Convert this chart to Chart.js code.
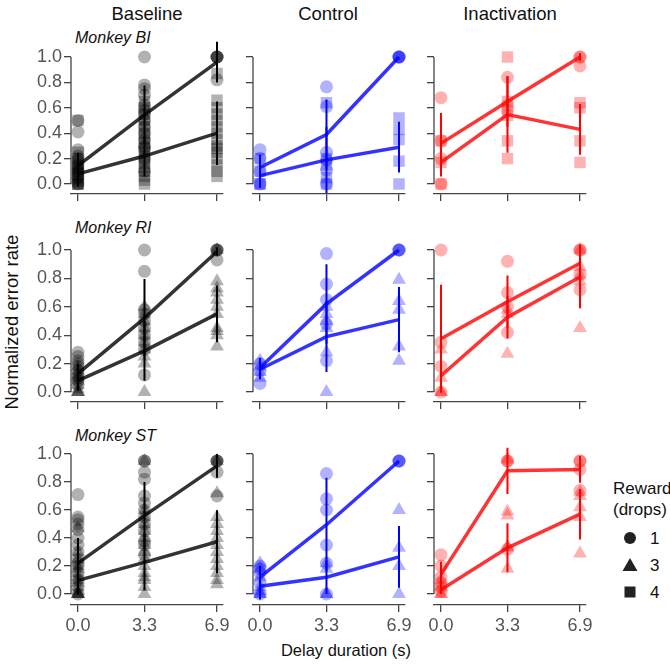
<!DOCTYPE html>
<html>
<head>
<meta charset="utf-8">
<script src="https://cdn.jsdelivr.net/npm/chart.js@4.4.0/dist/chart.umd.min.js"></script>
<style>
  body { margin: 0; background: #fff; }
  #fig { position: relative; width: 670px; height: 664px; font-family: 'Liberation Sans', Arial, sans-serif; color: #111; overflow: hidden; }
  #fig canvas { position: absolute; }
  .t { position: absolute; white-space: nowrap; line-height: 1; transform: translate(-50%, -50%); }
  .col { font-size: 18.5px; }
  .mk { font-size: 16px; font-style: italic; transform: translate(0, -50%); }
  .lg { font-size: 17px; transform: translate(0, -50%); }
</style>
</head>
<body>
<div id="fig">
  <div class="t col" style="left:147px;top:14px">Baseline</div>
  <div class="t col" style="left:328px;top:14px">Control</div>
  <div class="t col" style="left:510px;top:14px">Inactivation</div>
  <div class="t mk" style="left:75px;top:38px">Monkey BI</div>
  <div class="t mk" style="left:75px;top:228px">Monkey RI</div>
  <div class="t mk" style="left:75px;top:436px">Monkey ST</div>
  <div class="t" style="left:12px;top:322px;font-size:18.5px;transform:translate(-50%,-50%) rotate(-90deg)">Normalized error rate</div>
  <div class="t" style="left:346px;top:650px;font-size:16.5px">Delay duration (s)</div>
  <div class="t lg" style="left:613px;top:488px">Reward</div>
  <div class="t lg" style="left:613px;top:509px">(drops)</div>
  <div class="t lg" style="left:650px;top:538px">1</div>
  <div class="t lg" style="left:650px;top:565px">3</div>
  <div class="t lg" style="left:650px;top:592px">4</div>
  <svg style="position:absolute;left:0;top:0" width="670" height="664">
    <circle cx="630" cy="538" r="6" fill="#222"/>
    <polygon points="630,558 637.5,571 622.5,571" fill="#222"/>
    <rect x="624.5" y="586.5" width="11" height="11" fill="#222"/>
  </svg>
</div>
<script>
const DELAYS = [0, 3.3, 6.9];
const Y_TICKS = [0, 0.2, 0.4, 0.6, 0.8, 1.0];

// Monkey BI: reward 1 (circles), reward 4 (squares)
const BI_BASE_M1 = [0.145, 0.545, 0.96];
const BI_BASE_E1 = [0.1, 0.23, 0.16];
const BI_BASE_M2 = [0.08, 0.22, 0.40];
const BI_BASE_E2 = [0.1, 0.16, 0.25];
const BI_BASE_P1 = [[0.0, 0.05, 0.08, 0.1, 0.12, 0.15, 0.18, 0.2, 0.22, 0.27, 0.41, 0.5],
                    [1.0, 0.78, 0.75, 0.7, 0.62, 0.58, 0.55, 0.5, 0.45, 0.4, 0.35, 0.3, 0.28, 0.2, 0.1],
                    [1.0, 1.0, 1.0, 1.0, 0.82]];
const BI_BASE_P2 = [[0, 0, 0, 0.02, 0.04, 0.06, 0.08, 0.1, 0.12, 0.14, 0.16, 0.2, 0.25, 0.5],
                    [0, 0.03, 0.06, 0.1, 0.13, 0.16, 0.19, 0.22, 0.25, 0.28, 0.32, 0.36, 0.4, 0.45, 0.5, 0.55, 0.6, 0.65],
                    [0.06, 0.1, 0.15, 0.2, 0.25, 0.28, 0.3, 0.35, 0.4, 0.45, 0.5, 0.55, 0.6, 0.66, 0.87]];

const BI_CTRL_M1 = [0.13, 0.39, 1.0];
const BI_CTRL_E1 = [0.1, 0.275, 0];
const BI_CTRL_M2 = [0.066, 0.19, 0.29];
const BI_CTRL_E2 = [0.095, 0.26, 0.2];
const BI_CTRL_P1 = [[0.0, 0.1, 0.2, 0.27], [0.0, 0.11, 0.19, 0.25, 0.61, 0.765], [1.0, 1.0, 1.0, 1.0]];
const BI_CTRL_P2 = [[0.0, 0.0, 0.1, 0.2], [0.0, 0.05, 0.15, 0.2, 0.64], [0.0, 0.18, 0.35, 0.43, 0.52]];

const BI_INAC_M1 = [0.32, 0.65, 1.0];
const BI_INAC_E1 = [0.24, 0.2, 0.03];
const BI_INAC_M2 = [0.17, 0.546, 0.43];
const BI_INAC_E2 = [0.11, 0.3, 0.2];
const BI_INAC_P1 = [[0.0, 0.2, 0.34, 0.68], [0.58, 0.62, 0.84], [0.93, 1.0, 1.0]];
const BI_INAC_P2 = [[0.0, 0.17, 0.34], [0.2, 0.34, 0.54, 0.65, 1.0], [0.17, 0.34, 0.6, 0.64]];

// Monkey RI: reward 1 (circles), reward 3 (triangles)
const RI_BASE_M1 = [0.13, 0.52, 0.99];
const RI_BASE_E1 = [0.07, 0.275, 0.03];
const RI_BASE_M2 = [0.08, 0.29, 0.55];
const RI_BASE_E2 = [0.07, 0.21, 0.2];
const RI_BASE_P1 = [[0.05, 0.08, 0.1, 0.12, 0.15, 0.18, 0.2, 0.22, 0.25, 0.28],
                    [1.0, 0.85, 0.58, 0.55, 0.5, 0.45, 0.4, 0.35, 0.3, 0.12],
                    [1.0, 1.0, 1.0, 0.93]];
const RI_BASE_P2 = [[0, 0, 0, 0.02, 0.05, 0.08, 0.1, 0.12, 0.15, 0.18],
                    [0.0, 0.2, 0.25, 0.3, 0.35, 0.4, 0.45, 0.5, 0.55, 0.6],
                    [0.32, 0.4, 0.43, 0.45, 0.55, 0.6, 0.65, 0.7, 0.73, 0.78, 1.0]];

const RI_CTRL_M1 = [0.17, 0.62, 1.0];
const RI_CTRL_E1 = [0.07, 0.28, 0];
const RI_CTRL_M2 = [0.16, 0.39, 0.51];
const RI_CTRL_E2 = [0.07, 0.25, 0.23];
const RI_CTRL_P1 = [[0.06, 0.15, 0.2], [0.22, 0.48, 0.65, 0.76, 0.975], [1.0, 1.0, 1.0]];
const RI_CTRL_P2 = [[0.1, 0.14, 0.18, 0.22], [0.0, 0.28, 0.45, 0.5, 0.55, 0.6], [0.22, 0.32, 0.58, 0.64, 0.79]];

const RI_INAC_M1 = [0.375, 0.636, 0.907];
const RI_INAC_E1 = [0.38, 0.185, 0.13];
const RI_INAC_M2 = [0.114, 0.527, 0.81];
const RI_INAC_E2 = [0.11, 0.15, 0.22];
const RI_INAC_P1 = [[0.0, 0.18, 0.35, 1.0], [0.42, 0.6, 0.7, 0.92], [0.72, 0.83, 1.0, 1.0]];
const RI_INAC_P2 = [[0.0, 0.0, 0.1, 0.3], [0.27, 0.55, 0.58], [0.45, 0.78, 0.82, 0.88, 1.0]];

// Monkey ST: reward 1 (circles), reward 3 (triangles)
const ST_BASE_M1 = [0.22, 0.56, 0.915];
const ST_BASE_E1 = [0.18, 0.24, 0.085];
const ST_BASE_M2 = [0.097, 0.226, 0.373];
const ST_BASE_E2 = [0.1, 0.2, 0.225];
const ST_BASE_P1 = [[0.0, 0.05, 0.1, 0.15, 0.2, 0.22, 0.25, 0.3, 0.35, 0.4, 0.46, 0.5, 0.53, 0.55, 0.71],
                    [0.28, 0.35, 0.38, 0.45, 0.5, 0.55, 0.6, 0.65, 0.7, 0.82, 0.87, 0.95, 0.95],
                    [0.7, 0.87, 0.95, 0.95, 0.95]];
const ST_BASE_P2 = [[0, 0, 0, 0, 0.02, 0.05, 0.08, 0.1, 0.12, 0.15, 0.18, 0.2, 0.25, 0.3, 0.47],
                    [0, 0.05, 0.1, 0.12, 0.15, 0.2, 0.25, 0.3, 0.35, 0.4, 0.45, 0.5, 0.55, 0.6, 0.95],
                    [0.07, 0.1, 0.15, 0.2, 0.25, 0.3, 0.35, 0.4, 0.45, 0.5, 0.55, 0.72, 0.95]];

const ST_CTRL_M1 = [0.12, 0.495, 0.95];
const ST_CTRL_E1 = [0.08, 0.335, 0];
const ST_CTRL_M2 = [0.055, 0.12, 0.265];
const ST_CTRL_E2 = [0.095, 0.12, 0.22];
const ST_CTRL_P1 = [[0.0, 0.08, 0.15, 0.18, 0.2], [0.0, 0.22, 0.35, 0.6, 0.68, 0.86], [0.95, 0.95, 0.95]];
const ST_CTRL_P2 = [[0.0, 0.0, 0.02, 0.05, 0.12, 0.18, 0.22], [0.0, 0.0, 0.18, 0.22], [0.0, 0.2, 0.33, 0.6]];

const ST_INAC_M1 = [0.14, 0.88, 0.89];
const ST_INAC_E1 = [0.09, 0.165, 0.095];
const ST_INAC_M2 = [0.03, 0.33, 0.57];
const ST_INAC_E2 = [0.03, 0.175, 0.18];
const ST_INAC_P1 = [[0.02, 0.05, 0.08, 0.12, 0.2, 0.28], [0.32, 0.95, 0.95], [0.74, 0.89, 0.95, 0.95]];
const ST_INAC_P2 = [[0.0, 0.0, 0.05, 0.1], [0.18, 0.33, 0.34, 0.56, 0.59, 0.96], [0.29, 0.55, 0.62, 0.7, 0.73]];

// layout (pixels)
const FONT = "'Liberation Sans', Arial, sans-serif";
const AXIS = '#444';
const TICK = '#555';
const COLS = [
  { x: 71,    line: 'rgba(0,0,0,0.8)',   bar: '#000',    dot: 'rgba(0,0,0,0.3)' },
  { x: 252.5, line: 'rgba(0,0,255,0.8)', bar: '#0000ff', dot: 'rgba(0,0,255,0.3)' },
  { x: 434,   line: 'rgba(255,0,0,0.8)', bar: '#ff0000', dot: 'rgba(255,0,0,0.3)' },
];
const ROWS = [
  { top: 57,  zero: 184, axis: 194, shape: 'rect' },
  { top: 250, zero: 392, axis: 402, shape: 'triangle' },
  { top: 454, zero: 594, axis: 605, shape: 'triangle' },
];
const PANELS = [
  [BI_BASE_M1, BI_BASE_E1, BI_BASE_P1, BI_BASE_M2, BI_BASE_E2, BI_BASE_P2],
  [BI_CTRL_M1, BI_CTRL_E1, BI_CTRL_P1, BI_CTRL_M2, BI_CTRL_E2, BI_CTRL_P2],
  [BI_INAC_M1, BI_INAC_E1, BI_INAC_P1, BI_INAC_M2, BI_INAC_E2, BI_INAC_P2],
  [RI_BASE_M1, RI_BASE_E1, RI_BASE_P1, RI_BASE_M2, RI_BASE_E2, RI_BASE_P2],
  [RI_CTRL_M1, RI_CTRL_E1, RI_CTRL_P1, RI_CTRL_M2, RI_CTRL_E2, RI_CTRL_P2],
  [RI_INAC_M1, RI_INAC_E1, RI_INAC_P1, RI_INAC_M2, RI_INAC_E2, RI_INAC_P2],
  [ST_BASE_M1, ST_BASE_E1, ST_BASE_P1, ST_BASE_M2, ST_BASE_E2, ST_BASE_P2],
  [ST_CTRL_M1, ST_CTRL_E1, ST_CTRL_P1, ST_CTRL_M2, ST_CTRL_E2, ST_CTRL_P2],
  [ST_INAC_M1, ST_INAC_E1, ST_INAC_P1, ST_INAC_M2, ST_INAC_E2, ST_INAC_P2],
];

const AXIS_W = 152;                 // x spine length
const PX_PER_S = 139 / 6.9;         // 0 -> 6.9 s spans 139 px
const X_MIN = -7 / PX_PER_S;
const X_MAX = X_MIN + AXIS_W / PX_PER_S;
const PAD_L = 62, PAD_R = 12, PAD_T = 24, PAD_B = 32;

const meanPts = m => m.map((y, i) => ({ x: DELAYS[i], y }));
const barPts = (m, e) => m.flatMap((y, i) => [
  { x: DELAYS[i], y: y - e[i] }, { x: DELAYS[i], y: y + e[i] }, { x: DELAYS[i], y: null }]);
const dotPts = p => p.flatMap((ys, i) => ys.map(y => ({ x: DELAYS[i], y })));

// y spine only between 0 and 1 (x spine is offset below)
const ySpine = {
  id: 'ySpine',
  beforeDatasetsDraw(chart) {
    const { ctx, chartArea, scales } = chart;
    ctx.save();
    ctx.strokeStyle = AXIS;
    ctx.lineWidth = 1.3;
    ctx.beginPath();
    ctx.moveTo(chartArea.left, scales.y.getPixelForValue(0));
    ctx.lineTo(chartArea.left, scales.y.getPixelForValue(1));
    ctx.stroke();
    ctx.restore();
  }
};

const fig = document.getElementById('fig');

PANELS.forEach((p, k) => {
  const r = Math.floor(k / 3), c = k % 3;
  const row = ROWS[r], col = COLS[c];
  const [m1, e1, p1, m2, e2, p2] = p;
  const cv = document.createElement('canvas');
  cv.width = PAD_L + AXIS_W + PAD_R;
  cv.height = PAD_T + (row.axis - row.top) + PAD_B;
  cv.style.left = (col.x - PAD_L) + 'px';
  cv.style.top = (row.top - PAD_T) + 'px';
  fig.appendChild(cv);

  const yMin = -(row.axis - row.zero) / (row.zero - row.top);
  const lineDs = (m) => ({ data: meanPts(m), borderColor: col.line, borderWidth: 3.5,
    pointRadius: 0, tension: 0, fill: false, clip: false, order: 0 });
  const barDs = (m, e) => ({ data: barPts(m, e), borderColor: col.bar, borderWidth: 2,
    pointRadius: 0, spanGaps: false, clip: false, order: 1 });
  const dotDs = (pts, style, rad) => ({ data: dotPts(pts), showLine: false, pointStyle: style,
    pointRadius: rad, pointBackgroundColor: col.dot, pointBorderWidth: 0, clip: false, order: 2 });

  new Chart(cv, {
    type: 'line',
    data: {
      datasets: [
        lineDs(m1), lineDs(m2),
        barDs(m1, e1), barDs(m2, e2),
        dotDs(p1, 'circle', 6.5),
        dotDs(p2, row.shape, row.shape === 'rect' ? 8.1 : 8),
      ]
    },
    options: {
      responsive: false,
      animation: false,
      events: [],
      layout: { padding: { top: PAD_T, right: PAD_R, left: 0, bottom: 0 } },
      plugins: { legend: { display: false }, tooltip: { enabled: false } },
      scales: {
        x: {
          type: 'linear', min: X_MIN, max: X_MAX,
          afterBuildTicks: s => { s.ticks = DELAYS.map(v => ({ value: v })); },
          afterFit: s => { s.height = PAD_B; },
          grid: { drawOnChartArea: false, drawTicks: true, tickLength: 7, color: AXIS, lineWidth: 1.3 },
          border: { display: true, color: AXIS, width: 1.3 },
          ticks: { display: r === 2, color: TICK, font: { size: 18, family: FONT }, padding: 3,
                   maxRotation: 0, autoSkip: false, callback: v => v.toFixed(1) }
        },
        y: {
          min: yMin, max: 1,
          afterBuildTicks: s => { s.ticks = Y_TICKS.map(v => ({ value: v })); },
          afterFit: s => { s.width = PAD_L; },
          grid: { drawOnChartArea: false, drawTicks: true, tickLength: 7, color: AXIS, lineWidth: 1.3 },
          border: { display: false },
          ticks: { display: c === 0, color: TICK, font: { size: 18, family: FONT }, padding: 2,
                   callback: v => v.toFixed(1) }
        }
      }
    },
    plugins: [ySpine]
  });
});
</script>
</body>
</html>
